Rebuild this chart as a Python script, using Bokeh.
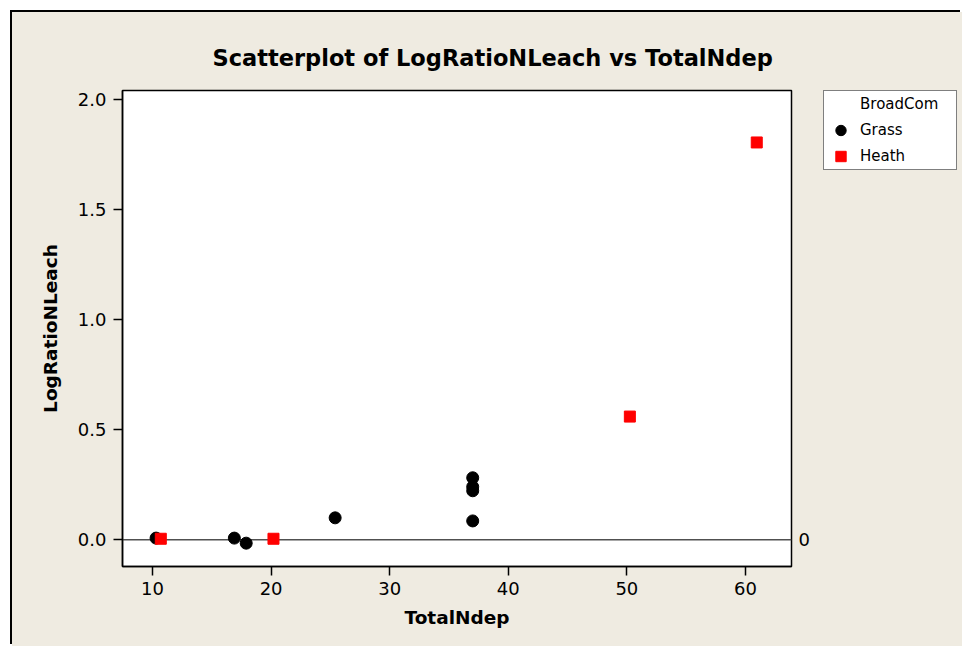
from bokeh.plotting import figure
from bokeh.layouts import row
from bokeh.models import (Span, Legend, LegendItem, LinearAxis, FixedTicker,
                          PrintfTickFormatter, Range1d)
from bokeh.embed import file_html
from bokeh.resources import INLINE

# ---- data ----
grass_x = [10.3, 16.9, 17.9, 25.4, 37.0, 37.0, 37.0, 37.0]
grass_y = [0.008, 0.008, -0.015, 0.10, 0.282, 0.241, 0.223, 0.086]
heath_x = [10.7, 20.2, 50.25, 60.95]
heath_y = [0.005, 0.005, 0.56, 1.805]
x_ticks = [10, 20, 30, 40, 50, 60]
y_ticks = [0.0, 0.5, 1.0, 1.5, 2.0]
ref_value = [0]
legend_title = "BroadCom"
group_names = ["Grass", "Heath"]
title_text = "Scatterplot of LogRatioNLeach vs TotalNdep"
x_label = "TotalNdep"
y_label = "LogRatioNLeach"

BG = "#EFEBE1"
FONT = "DejaVu Sans"
W, H = 950, 634          # whole beige panel
PW = 803                 # width of the plotting figure
FL, FR, FT, FB = 110, 779, 78, 554   # frame edges inside the panel

p = figure(width=PW, height=H, output_backend="svg", toolbar_location=None,
           x_range=Range1d(7.47, 63.88), y_range=Range1d(-0.121, 2.041),
           min_border_left=FL, min_border_right=PW - FR, min_border_top=FT,
           min_border_bottom=H - FB, background_fill_color="white",
           border_fill_color=BG, title=title_text)

p.title.text_font = FONT
p.title.text_font_size = "22.5px"
p.title.text_font_style = "bold"
p.title.align = "left"
p.title.offset = 90
p.title.standoff = 40
p.title.text_color = "black"

p.xgrid.visible = False
p.ygrid.visible = False
p.outline_line_color = "black"
p.outline_line_width = 1.5

p.xaxis.ticker = FixedTicker(ticks=x_ticks)
p.yaxis.ticker = FixedTicker(ticks=y_ticks)
p.yaxis.formatter = PrintfTickFormatter(format="%.1f")
p.xaxis.axis_label = x_label
p.yaxis.axis_label = y_label

for ax in p.xaxis + p.yaxis:
    ax.major_tick_out = 9
    ax.major_tick_in = 0
    ax.minor_tick_line_color = None
    ax.axis_line_width = 1.5
    ax.axis_line_color = "black"
    ax.major_tick_line_width = 1.5
    ax.major_tick_line_color = "black"
    ax.major_label_text_font = FONT
    ax.major_label_text_font_size = "18px"
    ax.major_label_text_color = "black"
    ax.axis_label_text_font = FONT
    ax.axis_label_text_font_size = "18.5px"
    ax.axis_label_text_font_style = "bold"
    ax.axis_label_text_color = "black"
p.xaxis.major_label_standoff = 6
p.yaxis.major_label_standoff = 7
p.xaxis.axis_label_standoff = 9
p.yaxis.axis_label_standoff = 14

# reference line at y = 0 with its label on the right
p.add_layout(Span(location=ref_value[0], dimension="width", line_color="#505050",
                  line_width=1.5, level="underlay"))
ra = LinearAxis(ticker=FixedTicker(ticks=ref_value), axis_line_color=None,
                major_tick_line_color=None, minor_tick_line_color=None,
                major_tick_out=0, major_tick_in=0, major_label_standoff=7,
                major_label_text_font=FONT, major_label_text_font_size="18px",
                major_label_text_color="black")
p.add_layout(ra, "right")

r_grass = p.scatter(grass_x, grass_y, marker="circle", size=12,
                    fill_color="black", line_color="black", line_width=1)
r_heath = p.scatter(heath_x, heath_y, marker="square", size=11,
                    fill_color="#FF0000", line_color="#FF0000", line_width=1)

# ---- legend area (a second, axis-less figure on the right) ----
# its ranges exclude the data, so only the legend swatches are visible
LW = W - PW
pl = figure(width=LW, height=H, output_backend="svg", toolbar_location=None,
            x_range=Range1d(100, 101), y_range=Range1d(100, 101),
            x_axis_location=None, y_axis_location=None,
            min_border_left=8, min_border_top=FT, min_border_right=0,
            min_border_bottom=0,
            background_fill_color=BG, border_fill_color=BG,
            outline_line_color=None)
pl.xgrid.visible = False
pl.ygrid.visible = False
lg_title = pl.scatter(x=[], y=[], fill_alpha=0, line_alpha=0)
lg_grass = pl.scatter(grass_x, grass_y, marker="circle", size=12,
                      fill_color="black", line_color="black", line_width=1)
lg_heath = pl.scatter(heath_x, heath_y, marker="square", size=11,
                      fill_color="#FF0000", line_color="#FF0000", line_width=1)

legend = Legend(items=[LegendItem(label=legend_title, renderers=[lg_title]),
                       LegendItem(label=group_names[0], renderers=[lg_grass]),
                       LegendItem(label=group_names[1], renderers=[lg_heath])],
                location="top_left", padding=0, spacing=0,
                glyph_width=33, glyph_height=26, label_standoff=3,
                label_width=96, label_height=20,
                label_text_font=FONT, label_text_font_size="15px",
                label_text_color="black",
                border_line_color="black", border_line_width=1,
                background_fill_color="white", background_fill_alpha=1,
                margin=0)
pl.add_layout(legend)

layout = row(p, pl, spacing=0)
layout.margin = (12, 0, 0, 12)
layout.styles = {"box-shadow": "-2px -2px 0 0 #000000", "background-color": BG}

open("out.html", "w").write(file_html(layout, INLINE))
